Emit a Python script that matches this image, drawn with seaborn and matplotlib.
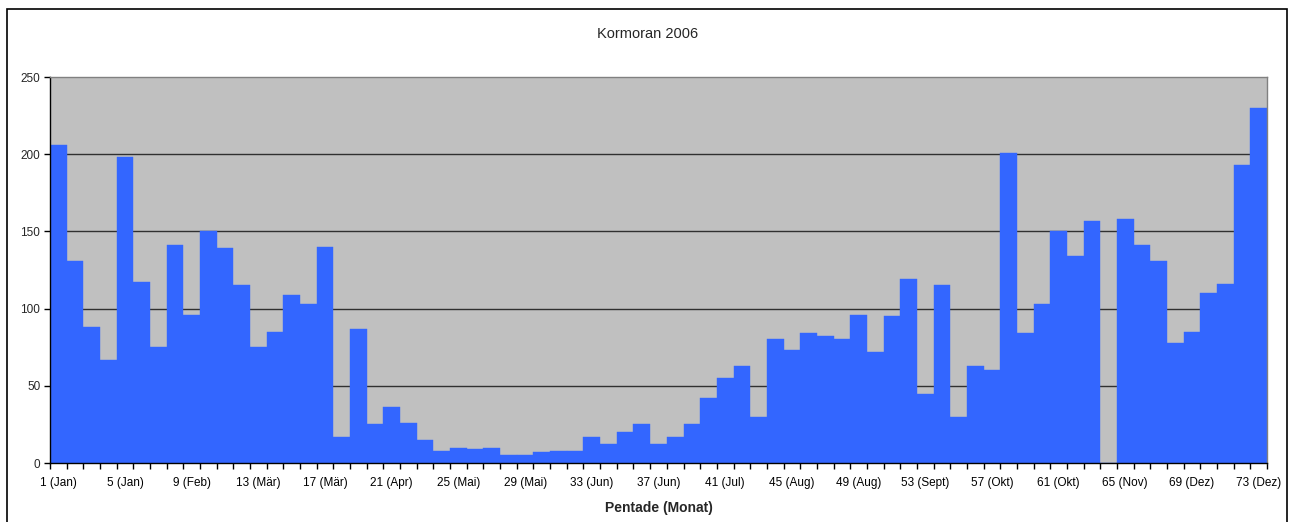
import matplotlib
matplotlib.use("Agg")
import matplotlib.pyplot as plt
import seaborn as sns
import pandas as pd
from matplotlib.patches import Rectangle
from matplotlib.ticker import FixedLocator, NullFormatter

# ---- data ----
pentade = list(range(1, 74))
kormoran = [206, 131, 88, 67, 198, 117, 75, 141, 96, 150,
            139, 115, 75, 85, 109, 103, 140, 17, 87, 25,
            36, 26, 15, 8, 10, 9, 10, 5, 5, 7,
            8, 8, 17, 12, 20, 25, 12, 17, 25, 42,
            55, 63, 30, 80, 73, 84, 82, 80, 96, 72,
            95, 119, 45, 115, 30, 63, 60, 201, 84, 103,
            150, 134, 157, 0, 158, 141, 131, 78, 85, 110,
            116, 193, 230]
tick_labels = ["1 (Jan)", "5 (Jan)", "9 (Feb)", "13 (Mär)", "17 (Mär)", "21 (Apr)",
               "25 (Mai)", "29 (Mai)", "33 (Jun)", "37 (Jun)", "41 (Jul)", "45 (Aug)",
               "49 (Aug)", "53 (Sept)", "57 (Okt)", "61 (Okt)", "65 (Nov)", "69 (Dez)",
               "73 (Dez)"]
y_ticks = [0, 50, 100, 150, 200, 250]
title = "Kormoran 2006"
xlabel = "Pentade (Monat)"

df = pd.DataFrame({"Pentade": pentade, "Anzahl": kormoran})

sns.set_theme(style="white")
plt.rcParams["font.family"] = ["Liberation Sans", "DejaVu Sans"]

W, H = 1297, 522
fig = plt.figure(figsize=(W / 100, H / 100), dpi=100)
fig.patch.set_facecolor("white")

# outer chart frame
fig.patches.append(Rectangle((7 / W, -0.05), (1287 - 7) / W, 1 - 9 / H + 0.05,
                             transform=fig.transFigure, fill=False,
                             edgecolor="black", linewidth=1.2, zorder=0))

ax = fig.add_axes([50 / W, (H - 463) / H, (1267 - 50) / W, (463 - 77) / H])
ax.set_facecolor("#C0C0C0")

sns.barplot(data=df, x="Pentade", y="Anzahl", color="#3366FF", saturation=1,
            width=1.0, edgecolor="#3366FF", linewidth=0.3, ax=ax, zorder=3)

ax.set_xlim(-0.5, len(pentade) - 0.5)
ax.set_ylim(0, 250)

for v in y_ticks[1:-1]:
    ax.axhline(v, color="#303030", linewidth=1.0, zorder=1)

ax.set_yticks(y_ticks)
ax.set_yticklabels([str(v) for v in y_ticks], fontsize=8.5)

label_pos = [pentade.index(int(t.split()[0])) for t in tick_labels]
ax.set_xticks(label_pos)
ax.set_xticklabels(tick_labels, fontsize=8.5)
ax.xaxis.set_minor_locator(FixedLocator([i - 0.5 for i in range(len(pentade) + 1)]))
ax.xaxis.set_minor_formatter(NullFormatter())
ax.tick_params(axis="x", which="major", length=0, pad=10, colors="black")
ax.tick_params(axis="x", which="minor", length=4, width=1, color="black", direction="out", bottom=True)
ax.tick_params(axis="y", which="major", length=4, width=1, color="black", direction="out", left=True, pad=3)

for side in ["left", "bottom"]:
    ax.spines[side].set_color("black")
    ax.spines[side].set_linewidth(1.0)
for side in ["top", "right"]:
    ax.spines[side].set_color("#808080")
    ax.spines[side].set_linewidth(1.0)
for s in ax.spines.values():
    s.set_visible(True)
    s.set_zorder(5)

ax.set_xlabel(xlabel, fontsize=10, fontweight="bold", labelpad=9)
ax.set_ylabel("")
fig.text(648 / W, 1 - 34 / H, title, ha="center", va="center", fontsize=10.5)

fig.savefig("out.png", dpi=100, facecolor="white")
